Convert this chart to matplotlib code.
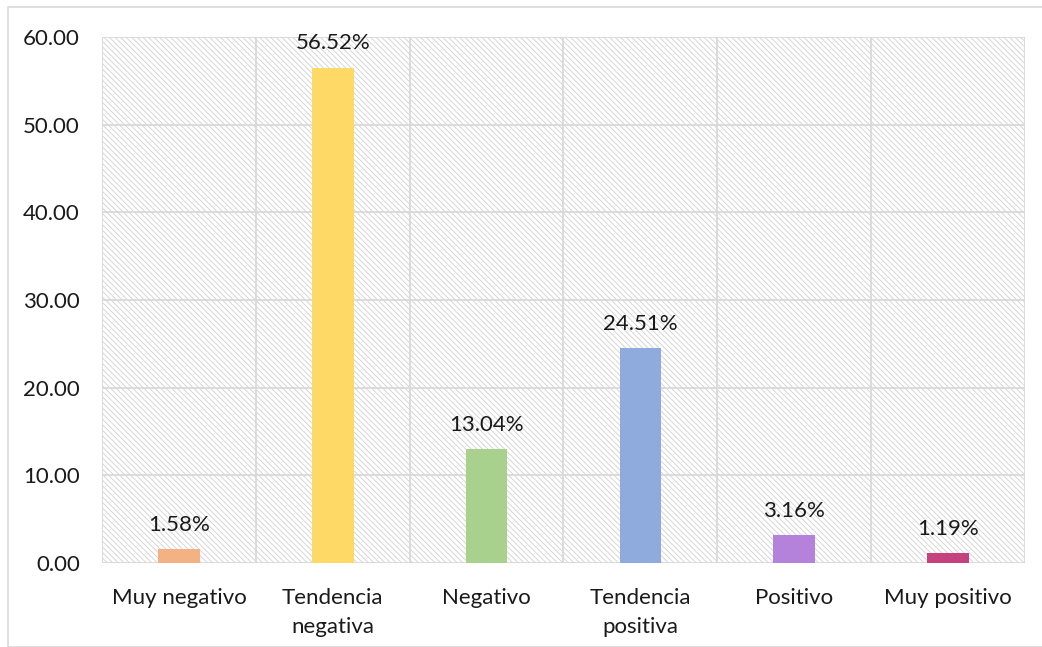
import matplotlib
matplotlib.use("Agg")
import matplotlib.pyplot as plt
from matplotlib.patches import Rectangle

categories = ["Muy negativo", "Tendencia\nnegativa", "Negativo", "Tendencia\npositiva", "Positivo", "Muy positivo"]
values = [1.58, 56.52, 13.04, 24.51, 3.16, 1.19]
labels = ["1.58%", "56.52%", "13.04%", "24.51%", "3.16%", "1.19%"]
colors = ["#F4B183", "#FFD966", "#A9D18E", "#8FAADC", "#B482DA", "#C5427E"]
yticks = [0, 10, 20, 30, 40, 50, 60]

plt.rcParams['font.family'] = ['Lato', 'DejaVu Sans']
plt.rcParams['hatch.linewidth'] = 0.6

W, H = 1042, 647
fig = plt.figure(figsize=(W / 100, H / 100), dpi=100)
fig.patches.append(Rectangle((8 / W, 0), 1.0, 1 - 7 / H, transform=fig.transFigure,
                             fill=False, edgecolor="#D9D9D9", linewidth=1.2, zorder=0))

ax = fig.add_axes([102 / W, 1 - 563 / H, (1025 - 102) / W, (563 - 37) / H])
ax.set_xlim(-0.5, 5.5)
ax.set_ylim(0, 60)

# hatched background
ax.add_patch(Rectangle((0, 0), 1, 1, transform=ax.transAxes, facecolor="white",
                       edgecolor="#D0D0D0", hatch="\\\\\\\\\\\\", linewidth=0, zorder=0))

gc = "#D9D9D9"
for y in yticks:
    ax.axhline(y, color=gc, linewidth=1.3, zorder=1)
for i in range(len(categories) + 1):
    ax.axvline(i - 0.5, color=gc, linewidth=1.3, zorder=1)

x = list(range(len(categories)))
ax.bar(x, values, width=0.27, color=colors, zorder=3)
for xi, v, lab in zip(x, values, labels):
    ax.text(xi, v + 1.6, lab, ha="center", va="bottom", fontsize=16, color="#1a1a1a", zorder=4)

ax.set_xticks(x)
ax.set_xticklabels(categories, fontsize=16, color="#1a1a1a", linespacing=1.55)
ax.set_yticks(yticks)
ax.set_yticklabels([f"{v:.2f}" for v in yticks], fontsize=16, color="#1a1a1a")
ax.tick_params(axis='x', length=0, pad=18)
ax.tick_params(axis='y', length=0, pad=16)
for s in ax.spines.values():
    s.set_visible(False)

fig.savefig("out.png", dpi=100)
